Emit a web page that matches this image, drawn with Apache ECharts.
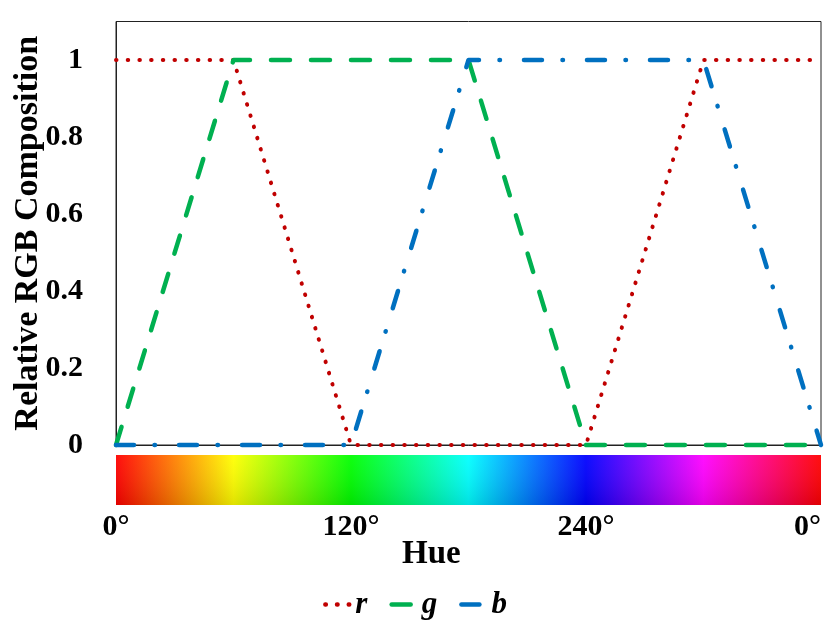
<!DOCTYPE html>
<html>
<head>
<meta charset="utf-8">
<script src="https://cdn.jsdelivr.net/npm/echarts@6/dist/echarts.min.js"></script>
<style>
  html, body { margin: 0; padding: 0; background: #fff; }
  #chart { width: 830px; height: 623px; }
</style>
</head>
<body>
<div id="chart"></div>
<script>
// 色相（度）和 r/g/b 的分量
var hue = [0, 60, 120, 180, 240, 300, 360]
var rVals = [1, 1, 0, 0, 0, 1, 1]
var gVals = [0, 1, 1, 1, 0, 0, 0]
var bVals = [0, 0, 0, 1, 1, 1, 0]
var yTicks = [0, 0.2, 0.4, 0.6, 0.8, 1]
var hueTicks = [0, 120, 240, 360]
// 色条的颜色节点
var barStops = [0, 60, 120, 180, 240, 300, 360]
var barColors = ['#ff0000', '#ffff00', '#00ff00', '#00ffff', '#0000ff', '#ff00ff', '#ff0000']

var FONT = '"Liberation Serif", "DejaVu Serif", serif'

function pairs (ys) {
  return hue.map(function (h, i) { return [h, ys[i]] })
}

var chart = echarts.init(document.getElementById('chart'), null, { renderer: 'canvas' })

var option = {
  backgroundColor: '#fff',
  animation: false,
  title: {
    text: 'Hue',
    left: 397,
    top: 533,
    textStyle: { fontFamily: FONT, fontWeight: 'bold', fontSize: 33, color: '#000' }
  },
  legend: {
    top: 584,
    left: 'center',
    itemWidth: 25,
    itemHeight: 14,
    itemGap: 22,
    data: ['r', 'g', 'b'],
    itemStyle: { color: 'transparent', borderWidth: 0, opacity: 0 },
    lineStyle: { width: 4.5, cap: 'round' },
    textStyle: { fontFamily: FONT, fontWeight: 'bold', fontStyle: 'italic', fontSize: 31, color: '#000' }
  },
  grid: [
    { left: 116, right: 9, top: 21.5, height: 423.5, outerBoundsMode: 'none', show: true, borderColor: '#222', borderWidth: 1, backgroundColor: 'transparent' },
    { left: 116, right: 9, top: 455, height: 50, outerBoundsMode: 'none' }
  ],
  xAxis: [
    {
      gridIndex: 0, type: 'value', min: 0, max: 360, interval: 120,
      axisLine: { show: true, lineStyle: { color: '#222', width: 1 } },
      axisTick: { show: false }, axisLabel: { show: false }, splitLine: { show: false }
    },
    {
      gridIndex: 1, type: 'value', min: 0, max: 360, interval: 120,
      axisLine: { show: false }, axisTick: { show: false }, splitLine: { show: false },
      axisLabel: {
        margin: 7, alignMaxLabel: 'right',
        fontFamily: FONT, fontWeight: 'bold', fontSize: 30, color: '#000',
        formatter: function (v) { return hueTicks.indexOf(v) >= 0 ? (v % 360) + '°' : '' }
      }
    }
  ],
  yAxis: [
    {
      gridIndex: 0, type: 'value', min: 0, max: 1.1, interval: 0.2,
      name: 'Relative RGB Composition',
      nameLocation: 'middle',
      nameGap: 71,
      nameMoveOverlap: false,
      nameTextStyle: { fontFamily: FONT, fontWeight: 'bold', fontSize: 34, color: '#000' },
      axisLine: { show: true, lineStyle: { color: '#222', width: 1 } },
      axisTick: { show: false }, splitLine: { show: false },
      axisLabel: {
        margin: 33, showMaxLabel: false,
        fontFamily: FONT, fontWeight: 'bold', fontSize: 30, color: '#000',
        formatter: function (v) {
          var hit = yTicks.filter(function (t) { return Math.abs(t - v) < 1e-6 })
          return hit.length ? String(+hit[0].toFixed(1)) : ''
        }
      }
    },
    { gridIndex: 1, type: 'value', min: 0, max: 1, show: false }
  ],
  series: [
    {
      name: 'colorbar', type: 'custom', xAxisIndex: 1, yAxisIndex: 1, silent: true,
      data: [[barStops[0], barStops[barStops.length - 1]]],
      renderItem: function (params, api) {
        var p0 = api.coord([api.value(0), 1])
        var p1 = api.coord([api.value(1), 0])
        var span = barStops[barStops.length - 1] - barStops[0]
        var stops = barStops.map(function (s, i) { return { offset: (s - barStops[0]) / span, color: barColors[i] } })
        var shape = { x: p0[0], y: p0[1], width: p1[0] - p0[0], height: p1[1] - p0[1] }
        return {
          type: 'group',
          children: [
            { type: 'rect', shape: shape, style: { fill: new echarts.graphic.LinearGradient(0, 0, 1, 0, stops) } },
            {
              type: 'rect', shape: shape,
              style: {
                fill: new echarts.graphic.LinearGradient(0, 0, 0, 1, [
                  { offset: 0, color: 'rgba(255,255,255,0.06)' },
                  { offset: 1, color: 'rgba(0,0,0,0.12)' }
                ])
              }
            }
          ]
        }
      }
    },
    {
      name: 'r', type: 'line', data: pairs(rVals), symbol: 'none', clip: false,
      color: '#C00000',
      lineStyle: { color: '#C00000', width: 4, type: [0.5, 11.2], cap: 'round', join: 'round' }
    },
    {
      name: 'g', type: 'line', data: pairs(gVals), symbol: 'none', clip: false,
      color: '#00B050',
      lineStyle: { color: '#00B050', width: 4.5, type: [19, 21], cap: 'round', join: 'round' }
    },
    {
      name: 'b', type: 'line', data: pairs(bVals), symbol: 'none', clip: false,
      color: '#0070C0',
      lineStyle: { color: '#0070C0', width: 4.5, type: [18, 20.5, 0.5, 24], cap: 'round', join: 'round' }
    }
  ]
}

chart.setOption(option)
</script>
</body>
</html>
